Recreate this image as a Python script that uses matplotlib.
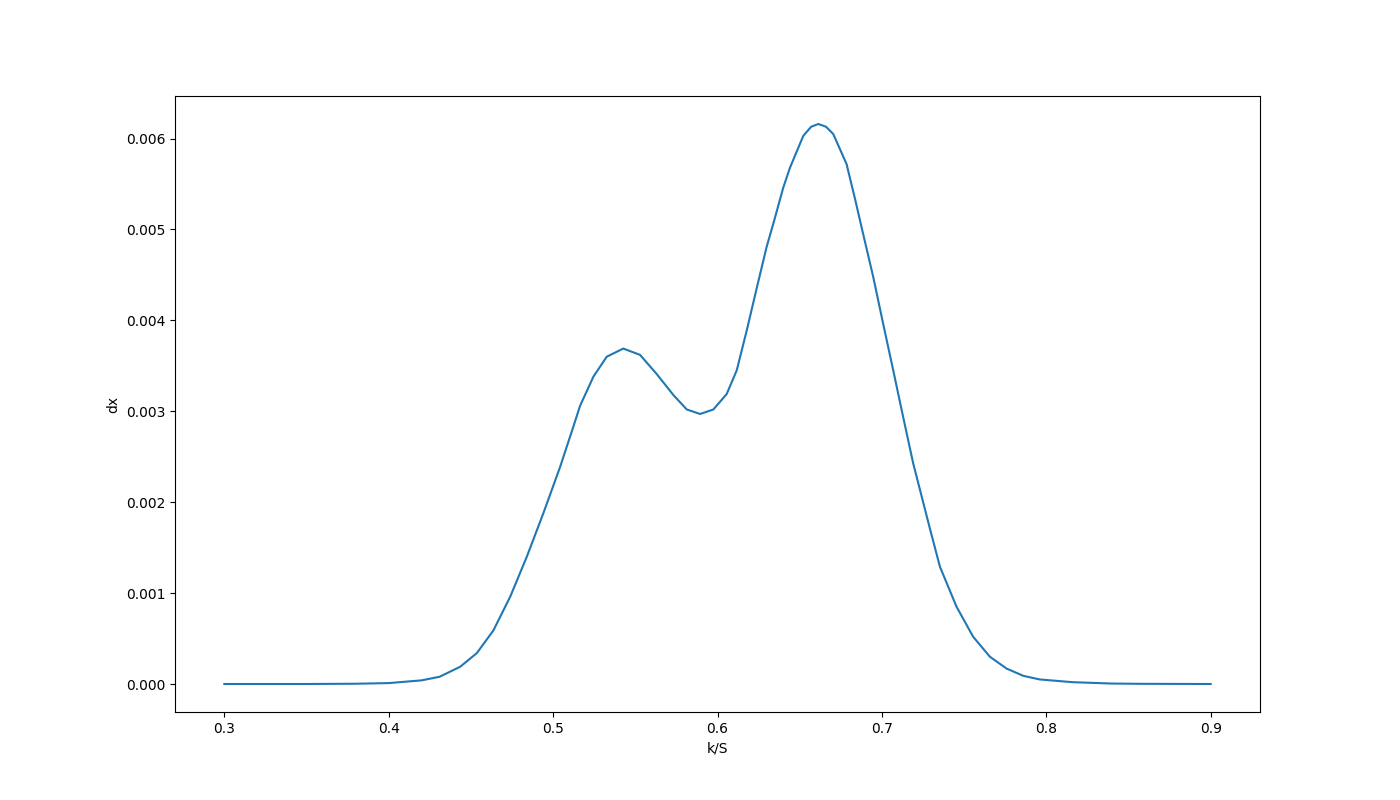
import matplotlib
matplotlib.use('Agg')
import matplotlib.pyplot as plt

# values
k_over_S = [0.300, 0.350, 0.380, 0.400, 0.420, 0.431, 0.4435, 0.4536, 0.4637, 0.4739,
            0.4840, 0.4941, 0.5043, 0.5123, 0.5164, 0.5245, 0.5326, 0.5427, 0.5529, 0.5630,
            0.5731, 0.5813, 0.5894, 0.5975, 0.6056, 0.6117, 0.6178, 0.6238, 0.6299, 0.6339,
            0.6400, 0.6441, 0.6522, 0.6570, 0.6613, 0.6660, 0.6704, 0.6785, 0.6836, 0.6886,
            0.6947, 0.7008, 0.7069, 0.7129, 0.7190, 0.7292, 0.7353, 0.7454, 0.7555, 0.7657,
            0.7758, 0.786, 0.796, 0.816, 0.840, 0.857, 0.900]
dx = [0.0, 0.0, 0.000003, 0.00001, 0.00004, 0.00008, 0.00019, 0.00034, 0.00059, 0.00096,
      0.00140, 0.00188, 0.00239, 0.00283, 0.00306, 0.00338, 0.00360, 0.00369, 0.00362, 0.00341,
      0.00318, 0.00302, 0.00297, 0.00302, 0.00319, 0.00345, 0.00389, 0.00435, 0.00481, 0.00506,
      0.00546, 0.00568, 0.00603, 0.00613, 0.00616, 0.00613, 0.00605, 0.00572, 0.00534, 0.00495,
      0.00448, 0.00396, 0.00345, 0.00294, 0.00243, 0.00171, 0.00129, 0.00085, 0.00052, 0.00030,
      0.00017, 0.00009, 0.00005, 0.00002, 0.000005, 0.000002, 0.0]

fig = plt.figure(figsize=(14, 8), dpi=100)
ax = fig.add_subplot(111)
ax.plot(k_over_S, dx)
ax.set_xlabel('k/S')
ax.set_ylabel('dx')
fig.savefig('out.png')
